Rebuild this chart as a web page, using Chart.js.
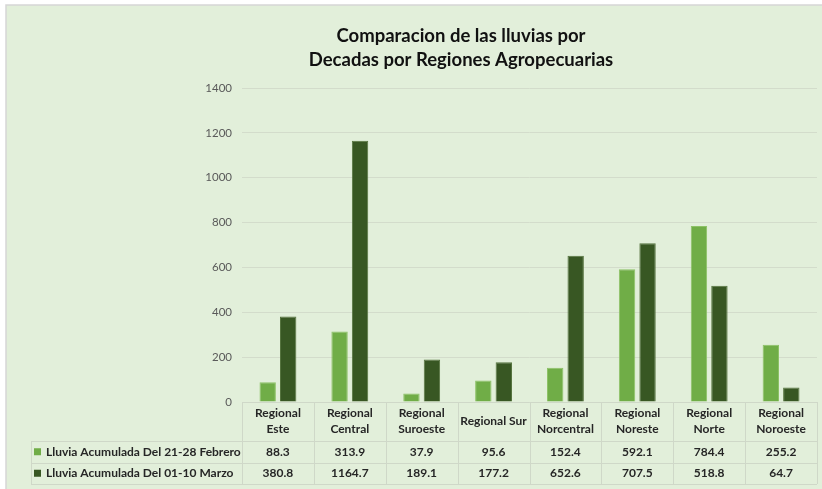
<!DOCTYPE html>
<html>
<head>
<meta charset="utf-8">
<script src="https://cdn.jsdelivr.net/npm/chart.js@4"></script>
<style>
  html, body { margin: 0; padding: 0; background: #ffffff; }
  #wrap { width: 822px; height: 489px; }
</style>
</head>
<body>
<div id="wrap"><canvas id="grafico"></canvas></div>
<script>
var regiones = [
    ['Regional', 'Este'], ['Regional', 'Central'], ['Regional', 'Suroeste'], 'Regional Sur',
    ['Regional', 'Norcentral'], ['Regional', 'Noreste'], ['Regional', 'Norte'], ['Regional', 'Noroeste']
];
var febrero = [88.3, 313.9, 37.9, 95.6, 152.4, 592.1, 784.4, 255.2];
var marzo = [380.8, 1164.7, 189.1, 177.2, 652.6, 707.5, 518.8, 64.7];
var serieFebrero = 'Lluvia Acumulada Del 21-28 Febrero';
var serieMarzo = 'Lluvia Acumulada Del 01-10 Marzo';
var tituloLineas = ['Comparacion de las lluvias por', 'Decadas por Regiones Agropecuarias'];

var verdeClaro = '#70ad47';
var verdeOscuro = '#385723';
var lineaTabla = '#cfd8c8';
var fuente = 'Lato, "Open Sans", sans-serif';

// fondo verde del grafico
var fondo = {
    id: 'fondo',
    beforeDraw: function (chart) {
        var ctx = chart.ctx;
        ctx.save();
        ctx.fillStyle = '#e2efda';
        ctx.fillRect(6, 5, chart.width - 6, chart.height - 5);
        ctx.strokeStyle = '#d6d6d6';
        ctx.lineWidth = 1.5;
        ctx.beginPath();
        ctx.moveTo(6, chart.height);
        ctx.lineTo(6, 5);
        ctx.lineTo(chart.width, 5);
        ctx.stroke();
        ctx.restore();
    }
};

// titulo en dos lineas
var titulo = {
    id: 'titulo',
    afterDraw: function (chart) {
        var ctx = chart.ctx;
        ctx.save();
        ctx.fillStyle = '#111111';
        ctx.font = 'bold 18.5px ' + fuente;
        ctx.textAlign = 'center';
        ctx.textBaseline = 'middle';
        ctx.fillText(tituloLineas[0], 461, 36);
        ctx.fillText(tituloLineas[1], 461, 60);
        ctx.restore();
    }
};

// tabla de datos debajo del eje x
var tabla = {
    id: 'tabla',
    afterDraw: function (chart) {
        var ctx = chart.ctx;
        var x = chart.scales.x;
        var area = chart.chartArea;
        var ancho = (area.right - area.left) / regiones.length;
        var top = x.top;
        var fila1 = top + 39;
        var altoFila = 21.5;
        var bottom = fila1 + altoFila * 2;
        var izq = 31;

        ctx.save();
        ctx.strokeStyle = lineaTabla;
        ctx.lineWidth = 1;
        ctx.beginPath();
        ctx.moveTo(area.left, top + 0.5);
        ctx.lineTo(area.right, top + 0.5);
        [fila1, fila1 + altoFila, bottom].forEach(function (yy) {
            ctx.moveTo(izq, Math.round(yy) + 0.5);
            ctx.lineTo(area.right, Math.round(yy) + 0.5);
        });
        for (var i = 0; i <= regiones.length; i++) {
            var xx = Math.round(area.left + i * ancho) + 0.5;
            ctx.moveTo(xx, top);
            ctx.lineTo(xx, bottom);
        }
        ctx.moveTo(izq + 0.5, fila1);
        ctx.lineTo(izq + 0.5, bottom);
        ctx.stroke();

        ctx.font = 'bold 12px ' + fuente;
        ctx.fillStyle = '#262626';
        ctx.textBaseline = 'middle';
        var series = [[serieFebrero, febrero, verdeClaro], [serieMarzo, marzo, verdeOscuro]];
        series.forEach(function (s, r) {
            var yc = fila1 + altoFila * r + altoFila / 2;
            ctx.fillStyle = s[2];
            ctx.fillRect(izq + 3, yc - 3.5, 7, 7);
            ctx.fillStyle = '#262626';
            ctx.textAlign = 'left';
            ctx.fillText(s[0], izq + 15, yc);
            ctx.textAlign = 'center';
            s[1].forEach(function (v, i) {
                ctx.fillText(v.toFixed(1), x.getPixelForValue(i), yc);
            });
        });
        ctx.restore();
    }
};

var ctx = document.getElementById('grafico');
var chart = new Chart(ctx, {
    type: 'bar',
    data: {
        labels: regiones,
        datasets: [{
            label: serieFebrero,
            data: febrero,
            backgroundColor: verdeClaro,
            borderColor: '#8dc266',
            borderWidth: 1
        },
        {
            label: serieMarzo,
            data: marzo,
            backgroundColor: verdeOscuro,
            borderColor: '#56743f',
            borderWidth: 1
        }]
    },
    options: {
        responsive: true,
        maintainAspectRatio: false,
        animation: false,
        categoryPercentage: 0.57,
        barPercentage: 0.8,
        layout: { padding: { top: 88, right: 5, bottom: 5, left: 0 } },
        plugins: {
            legend: { display: false },
            title: { display: false },
            tooltip: { enabled: false }
        },
        scales: {
            y: {
                min: 0,
                max: 1400,
                afterFit: function (scale) { scale.width = 242; },
                ticks: {
                    stepSize: 200,
                    padding: 10,
                    color: '#595959',
                    font: { family: fuente, size: 11.5 },
                    callback: function (value) { return value; }
                },
                grid: { color: '#d3dccb', drawTicks: false, tickLength: 0 },
                border: { display: false }
            },
            x: {
                afterFit: function (scale) { scale.height = 82; },
                ticks: {
                    autoSkip: false,
                    maxRotation: 0,
                    minRotation: 0,
                    padding: 11,
                    crossAlign: 'center',
                    color: '#262626',
                    font: { family: fuente, size: 12, weight: 'bold', lineHeight: 1.33 }
                },
                grid: { display: false, drawTicks: false, tickLength: 0 },
                border: { display: false }
            }
        }
    },
    plugins: [fondo, titulo, tabla]
});
</script>
</body>
</html>
